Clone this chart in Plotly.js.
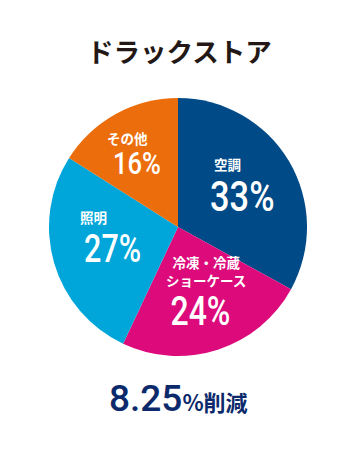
<!DOCTYPE html>
<html><head><meta charset="utf-8">
<script src="https://cdn.plot.ly/plotly-3.0.1.min.js"></script>
<style>html,body{margin:0;padding:0;background:#fff}#c{width:355px;height:450px}
.narrow text{transform-box:fill-box;transform-origin:center;transform:scaleX(0.8)}</style>
</head><body><div id="c"></div>
<script>
var title = "ドラックストア";
var categories = ["空調", "冷凍・冷蔵<br>ショーケース", "照明", "その他"];
var values = [33, 24, 27, 16];
var colors = ["#004a87", "#dc0a7b", "#00a6d9", "#ec6d0c"];
var summaryValue = "8.25";
var summaryUnit = "%削減";

// label placement (pixel positions in the 355x450 frame)
var labelPos = [[227,164],[206,271],[93,217],[127,138]];
var pctPos = [[242,196],[200,311],[112,249],[137,163]];
var pctSize = [43, 40, 38, 32];
var W = 355, H = 450;
var jp = "'Noto Sans CJK JP', 'Noto Sans', sans-serif";
var ann = [], narrowIdx = [];
function P(x, y) { return {x: x/W, y: 1 - y/H, xref:'paper', yref:'paper', xanchor:'center', yanchor:'middle', showarrow:false}; }
for (var i = 0; i < categories.length; i++) {
  var a = P(labelPos[i][0], labelPos[i][1]);
  a.text = '<b>' + categories[i] + '</b>'; a.align = 'center';
  a.font = {family:jp, size:13.5, color:'#fff'};
  ann.push(a);
  var b = P(pctPos[i][0], pctPos[i][1]);
  b.text = values[i] + '%';
  b.font = {family:"Roboto, sans-serif", size:pctSize[i], color:'#fff', weight:500};
  narrowIdx.push(ann.length);
  ann.push(b);
}
var t = P(179, 50);
t.text = '<b>' + title + '</b>'; t.font = {family:jp, size:26.5, color:'#231815'};
ann.push(t);
var s = P(178, 398);
s.text = '<span style="font-family:Roboto;font-weight:500;font-size:37px">' + summaryValue + '</span>' +
         '<b>' + summaryUnit + '</b>';
s.font = {family:jp, size:22, color:'#0c2a6b'};
ann.push(s);

var cx = 178, cy = 227, r = 129;
Plotly.newPlot('c', [{
  type:'pie', values: values, labels: categories, sort:false, direction:'clockwise', rotation:0,
  marker:{colors: colors, line:{width:0}}, textinfo:'none', hoverinfo:'none',
  domain:{x:[(cx-r)/W,(cx+r)/W], y:[1-(cy+r)/H, 1-(cy-r)/H]}
}], {
  width:W, height:H, margin:{l:0,r:0,t:0,b:0}, showlegend:false,
  paper_bgcolor:'#fff', annotations: ann
}, {staticPlot:true, displayModeBar:false}).then(function(){
  var gs = document.querySelectorAll('g.annotation');
  gs.forEach(function(g){
    var k = +g.getAttribute('data-index');
    if (narrowIdx.indexOf(k) >= 0) g.classList.add('narrow');
  });
});
</script></body></html>
